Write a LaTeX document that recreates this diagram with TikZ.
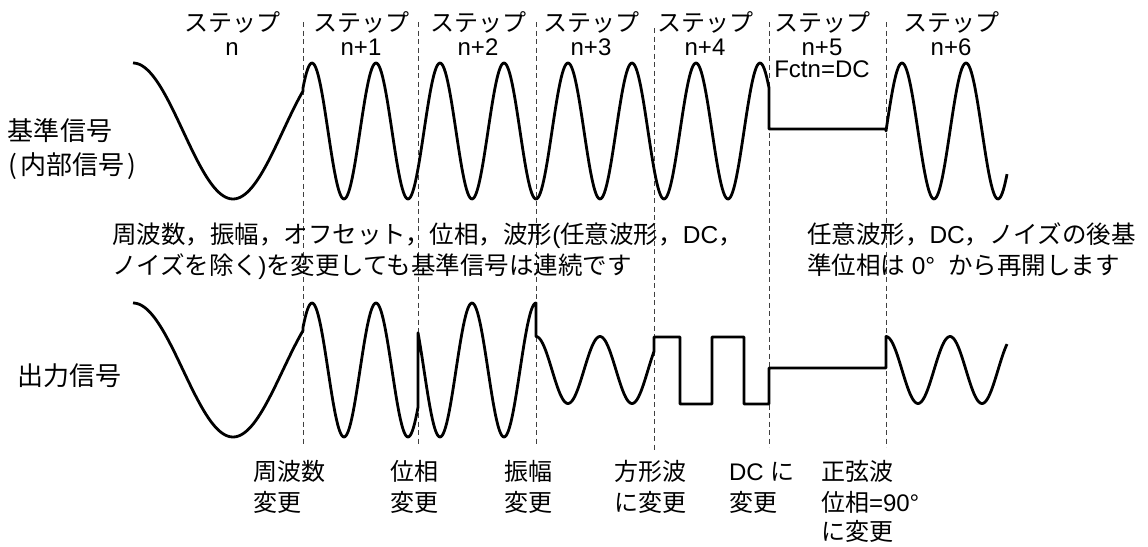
\documentclass[tikz,border=0pt]{standalone}
\usepackage{fontspec}
\setmainfont{Liberation Sans}
\newfontfamily\jp{Noto Sans CJK JP}
\begin{document}
\begin{tikzpicture}[x=1pt,y=-1pt,
  wave/.style={line width=2.8pt, line join=round},
  guide/.style={black!75, line width=1pt, dash pattern=on 5pt off 3.5pt},
  txt/.style={inner sep=0pt, outer sep=0pt, font=\fontsize{24}{28}\selectfont},
  note/.style={inner sep=0pt, outer sep=0pt, font=\fontsize{24.5}{28}\selectfont},
  big/.style={inner sep=0pt, outer sep=0pt, font=\fontsize{26}{30}\selectfont}]
\useasboundingbox (0,0) rectangle (1148,546);
% step boundaries
\foreach \gx/\gt/\gb in {303/22/445, 418/22/445, 536/22/445, 654/28/452, 769/22/447, 886/22/447}
  \draw[guide] (\gx,\gt) -- (\gx,\gb);
% step labels
\foreach \cx/\sub [count=\i] in {232/n, 361/n+1, 478/n+2, 591/n+3, 705/n+4, 822/n+5, 951/n+6} {
  \node[txt, anchor=base] (st\i) at (\cx,31) {\jp ステップ};
  \node[txt, anchor=base] (sn\i) at (\cx,55) {\sub};
}
\node[txt, anchor=base] (fctn) at (822,77) {Fctn=DC};
% left labels
\node[big, anchor=base west] (ref1) at (8,140) {\jp 基準信号};
\node[big, anchor=base west] (ref2) at (9,174) {\jp (\hspace{3pt}内部信号\hspace{3pt})};
\node[big, anchor=base west] (outs) at (17,385) {\jp 出力信号};
% reference signal
\draw[wave] plot[domain=133:303, samples=80] (\x,{131-68*cos(1.8*(\x-133))})
  -- plot[domain=303:769, samples=400] (\x,{131-68*cos(5.625*(\x-312))})
  -- (769,129) -- (886,129)
  -- plot[domain=886:1007, samples=100] (\x,{131-68*sin(5.625*(\x-886))});
% output signal
\draw[wave] plot[domain=133:303, samples=80] (\x,{370-67*cos(1.8*(\x-133))})
  -- plot[domain=303:418, samples=100] (\x,{370-67*cos(5.625*(\x-312))})
  -- plot[domain=418:536, samples=100] (\x,{370+67*cos(5.625*(\x-440))})
  -- plot[domain=536:654, samples=100] (\x,{370-33.5*cos(5.625*(\x-536))})
  -- (654,337) -- (680,337) -- (680,404) -- (712,404) -- (712,337)
  -- (744,337) -- (744,404) -- (769,404) -- (769,368) -- (886,368)
  -- plot[domain=886:1007, samples=100] (\x,{370-33.5*cos(5.625*(\x-886))});
% middle notes
\node[note, anchor=base west] (m1) at (112,243) {{\jp 周波数，振幅，オフセット，位相，波形}({\jp 任意波形，}DC{\jp ，}};
\node[note, anchor=base west] (m2) at (112,274) {{\jp ノイズを除く}){\jp を変更しても基準信号は連続です}};
\node[note, anchor=base west] (r1) at (807,243) {{\jp 任意波形，}DC{\jp ，ノイズの後基}};
\node[note, anchor=base west] (r2) at (807,274) {{\jp 準位相は} 0°\hspace{13pt}{\jp から再開します}};
% bottom labels
\node[txt, anchor=base west] (b1a) at (253,480) {\jp 周波数};
\node[txt, anchor=base west] (b1b) at (253,511) {\jp 変更};
\node[txt, anchor=base west] (b2a) at (390,480) {\jp 位相};
\node[txt, anchor=base west] (b2b) at (390,511) {\jp 変更};
\node[txt, anchor=base west] (b3a) at (504,480) {\jp 振幅};
\node[txt, anchor=base west] (b3b) at (504,511) {\jp 変更};
\node[txt, anchor=base west] (b4a) at (614,480) {\jp 方形波};
\node[txt, anchor=base west] (b4b) at (614,511) {\jp に変更};
\node[txt, anchor=base west] (b5a) at (729,480) {DC {\jp に}};
\node[txt, anchor=base west] (b5b) at (729,511) {\jp 変更};
\node[txt, anchor=base west] (b6a) at (821,480) {\jp 正弦波};
\node[txt, anchor=base west] (b6b) at (821,511) {{\jp 位相}=90°};
\node[txt, anchor=base west] (b6c) at (821,540) {\jp に変更};
\end{tikzpicture}
\end{document}
